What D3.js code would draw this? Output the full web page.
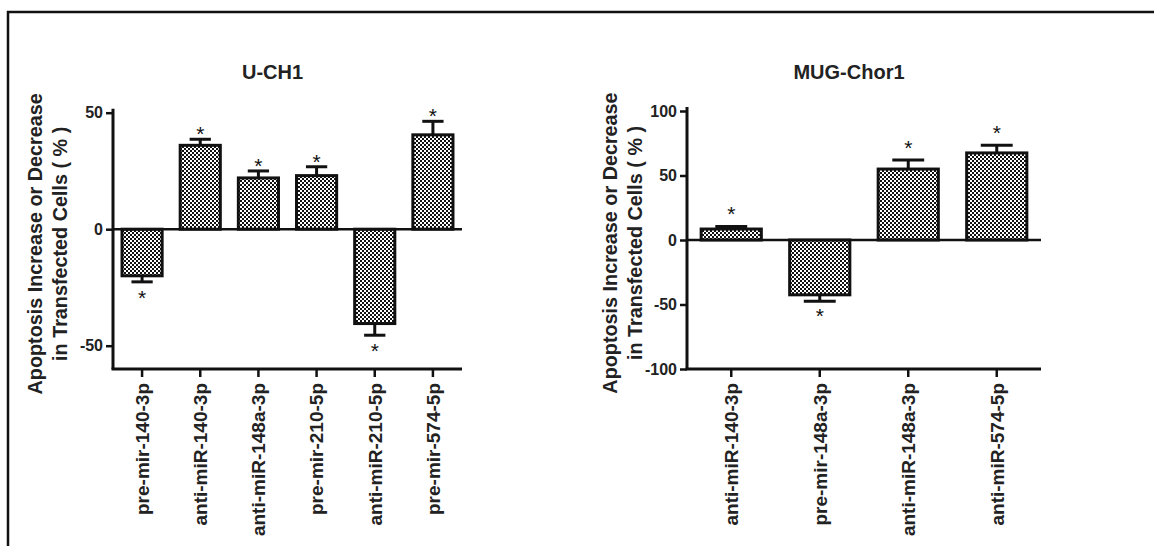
<!DOCTYPE html>
<html>
<head>
<meta charset="utf-8">
<script src="https://cdn.jsdelivr.net/npm/d3@7"></script>
<style>
  body { margin: 0; background: #fff; }
  svg text { font-family: "Liberation Sans", Arial, sans-serif; }
</style>
</head>
<body>
<div id="chart"></div>
<script>
// U-CH1 panel
const uchLabels = ["pre-mir-140-3p", "anti-miR-140-3p", "anti-miR-148a-3p", "pre-mir-210-5p", "anti-miR-210-5p", "pre-mir-574-5p"];
const uchValues = [-20, 36, 22, 23, -40.5, 40.5];
const uchErrors = [2.6, 2.6, 3, 3.8, 5, 5.8];
const uchTicks = [-50, 0, 50];

// MUG-Chor1 panel
const mugLabels = ["anti-miR-140-3p", "pre-mir-148a-3p", "anti-miR-148a-3p", "anti-miR-574-5p"];
const mugValues = [8.5, -42.5, 55, 67.5];
const mugErrors = [2, 5, 7, 6];
const mugTicks = [-100, -50, 0, 50, 100];

const W = 1154, H = 546;

const svg = d3.select("#chart").append("svg")
  .attr("width", W)
  .attr("height", H);

// checkerboard fill of the bars
const pat = svg.append("defs").append("pattern")
  .attr("id", "checker")
  .attr("patternUnits", "userSpaceOnUse")
  .attr("width", 4).attr("height", 4);
pat.append("rect").attr("width", 4).attr("height", 4).attr("fill", "#fff");
pat.append("rect").attr("width", 2).attr("height", 2).attr("fill", "#111");
pat.append("rect").attr("x", 2).attr("y", 2).attr("width", 2).attr("height", 2).attr("fill", "#111");

// outer frame (open on the right and bottom)
svg.append("path")
  .attr("d", "M8," + H + "V12H" + W)
  .attr("fill", "none")
  .attr("stroke", "#111")
  .attr("stroke-width", 2.5);

function drawPanel(p) {
  const g = svg.append("g");

  const x = d3.scaleBand()
    .domain(p.labels)
    .range([p.x0, p.x1])
    .paddingInner(p.pad)
    .paddingOuter(p.pad / 2);

  const y = d3.scaleLinear()
    .domain(p.domain)
    .range([p.yBottom, p.yTop]);

  const data = p.labels.map((l, i) => ({ label: l, value: p.values[i], err: p.errors[i] }));

  // title
  g.append("text")
    .attr("x", (p.x0 + p.x1) / 2 - 15)
    .attr("y", 79)
    .attr("text-anchor", "middle")
    .attr("font-size", 20)
    .attr("font-weight", "bold")
    .attr("fill", "#222")
    .text(p.title);

  // y axis title, two lines
  const cy = (p.yTop + p.yBottom) / 2 + 3;
  const yt = g.append("text")
    .attr("transform", "translate(" + p.labelX + "," + cy + ") rotate(-90)")
    .attr("text-anchor", "middle")
    .attr("font-size", 19.8)
    .attr("font-weight", "bold")
    .attr("fill", "#222");
  yt.append("tspan").attr("x", 0).attr("dy", 0).text("Apoptosis Increase or Decrease");
  yt.append("tspan").attr("x", 0).attr("dy", 25).text("in Transfected Cells ( % )");

  // error bars (one-sided, outward)
  const capW = x.bandwidth() * 0.53;
  const eb = g.selectAll(".err").data(data).enter().append("g")
    .attr("class", "err")
    .attr("stroke", "#111")
    .attr("stroke-width", 3);
  eb.append("line")
    .attr("x1", d => x(d.label) + x.bandwidth() / 2)
    .attr("x2", d => x(d.label) + x.bandwidth() / 2)
    .attr("y1", d => y(d.value))
    .attr("y2", d => y(d.value + Math.sign(d.value) * d.err));
  eb.append("line")
    .attr("x1", d => x(d.label) + x.bandwidth() / 2 - capW / 2)
    .attr("x2", d => x(d.label) + x.bandwidth() / 2 + capW / 2)
    .attr("y1", d => y(d.value + Math.sign(d.value) * d.err))
    .attr("y2", d => y(d.value + Math.sign(d.value) * d.err));

  // bars
  g.selectAll(".bar").data(data).enter().append("rect")
    .attr("class", "bar")
    .attr("x", d => x(d.label))
    .attr("width", x.bandwidth())
    .attr("y", d => y(Math.max(0, d.value)))
    .attr("height", d => Math.abs(y(d.value) - y(0)))
    .attr("fill", "url(#checker)")
    .attr("stroke", "#111")
    .attr("stroke-width", 3);

  // significance stars
  g.selectAll(".star").data(data).enter().append("text")
    .attr("class", "star")
    .attr("x", d => x(d.label) + x.bandwidth() / 2)
    .attr("y", d => {
      const e = y(d.value + Math.sign(d.value) * d.err);
      return d.value >= 0 ? e - p.starUp + 11 : e + p.starDown + 11;
    })
    .attr("text-anchor", "middle")
    .attr("font-size", 21)
    .attr("fill", "#111")
    .text("*");

  // zero line
  g.append("line")
    .attr("x1", p.x0).attr("x2", p.x1)
    .attr("y1", y(0)).attr("y2", y(0))
    .attr("stroke", "#111").attr("stroke-width", 2.5);

  // y axis
  const ya = g.append("g")
    .attr("transform", "translate(" + p.x0 + ",0)")
    .call(d3.axisLeft(y).tickValues(p.ticks).tickFormat(d => String(d))
      .tickSize(7).tickPadding(3).tickSizeOuter(0));
  ya.select(".domain").attr("stroke-width", 3).attr("stroke", "#111")
    .attr("d", "M0," + p.yBottom + "V" + (p.yTop - 4));
  ya.selectAll(".tick line").attr("stroke-width", 2.5).attr("stroke", "#111");
  ya.selectAll(".tick text")
    .attr("font-size", 16)
    .attr("font-weight", "bold")
    .attr("fill", "#222")
    .attr("font-family", "Liberation Sans, Arial, sans-serif");

  // x axis
  const xa = g.append("g")
    .attr("transform", "translate(0," + p.yBottom + ")")
    .call(d3.axisBottom(x).tickSize(8).tickSizeOuter(0));
  xa.select(".domain").attr("stroke-width", 3).attr("stroke", "#111")
    .attr("d", "M" + (p.x0 - 1.5) + ",0H" + p.x1);
  xa.selectAll(".tick line").attr("stroke-width", 2.5).attr("stroke", "#111");
  xa.selectAll(".tick text")
    .attr("font-size", 19)
    .attr("font-weight", "bold")
    .attr("fill", "#222")
    .attr("font-family", "Liberation Sans, Arial, sans-serif")
    .attr("text-anchor", "end")
    .attr("transform", "rotate(-90)")
    .attr("x", -14)
    .attr("y", 0)
    .attr("dy", "0.36em");
}

drawPanel({
  title: "U-CH1",
  labels: uchLabels, values: uchValues, errors: uchErrors, ticks: uchTicks,
  domain: [-60, 50],
  x0: 113, x1: 462, yTop: 112.7, yBottom: 369,
  pad: 0.31, labelX: 42, starUp: 9, starDown: 12
});

drawPanel({
  title: "MUG-Chor1",
  labels: mugLabels, values: mugValues, errors: mugErrors, ticks: mugTicks,
  domain: [-100, 100],
  x0: 687, x1: 1041, yTop: 111, yBottom: 369,
  pad: 0.32, labelX: 617, starUp: 16, starDown: 11
});
</script>
</body>
</html>
